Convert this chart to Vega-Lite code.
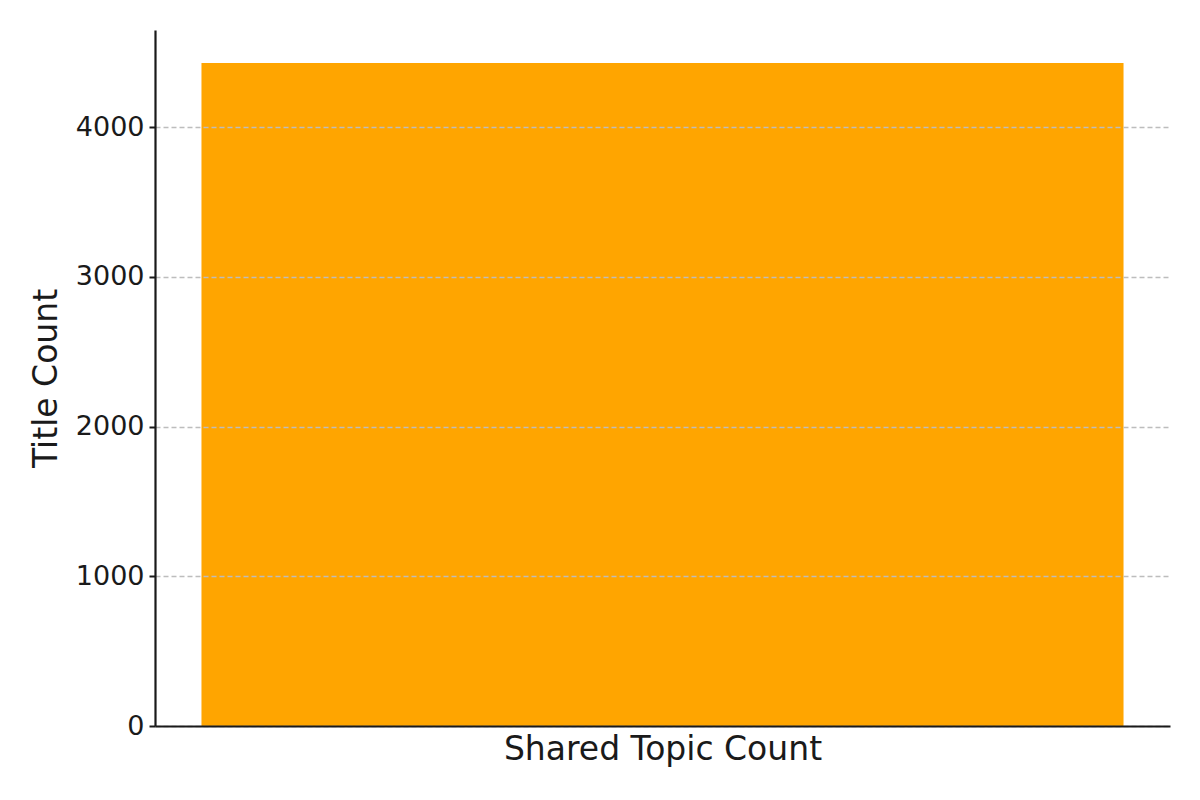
{
  "$schema": "https://vega.github.io/schema/vega-lite/v6.json",
  "width": 1015,
  "height": 696,
  "autosize": {"type": "none"},
  "padding": {"left": 155, "top": 30, "right": 30, "bottom": 74},
  "background": "white",
  "config": {"view": {"stroke": null}, "font": "DejaVu Sans"},
  "data": {"values": [{"label": "Shared Topic Count", "count": 4427}]},
  "mark": {"type": "bar", "color": "#FFA500"},
  "encoding": {
    "x": {
      "field": "label",
      "type": "nominal",
      "scale": {"paddingInner": 0, "paddingOuter": 0.0504},
      "axis": {
        "title": "Shared Topic Count",
        "labels": false,
        "ticks": false,
        "domainColor": "#1a1a1a",
        "domainWidth": 2.2,
        "titleFont": "DejaVu Sans",
        "titleFontSize": 33,
        "titleFontWeight": "normal",
        "titleColor": "#1a1a1a",
        "titlePadding": 7,
        "zindex": 2
      }
    },
    "y": {
      "field": "count",
      "type": "quantitative",
      "scale": {"domain": [0, 4648], "nice": false},
      "axis": {
        "title": "Title Count",
        "values": [0, 1000, 2000, 3000, 4000],
        "format": "d",
        "domainColor": "#1a1a1a",
        "domainWidth": 2.2,
        "tickColor": "#1a1a1a",
        "tickWidth": 2,
        "tickSize": 6,
        "labelFont": "DejaVu Sans",
        "labelFontSize": 27,
        "labelColor": "#1a1a1a",
        "labelPadding": 5,
        "titleFont": "DejaVu Sans",
        "titleFontSize": 33,
        "titleFontWeight": "normal",
        "titleColor": "#1a1a1a",
        "titlePadding": 12,
        "grid": true,
        "gridColor": "#bdbdbd",
        "gridDash": [5, 3],
        "gridWidth": 1.5,
        "zindex": 1
      }
    }
  }
}
